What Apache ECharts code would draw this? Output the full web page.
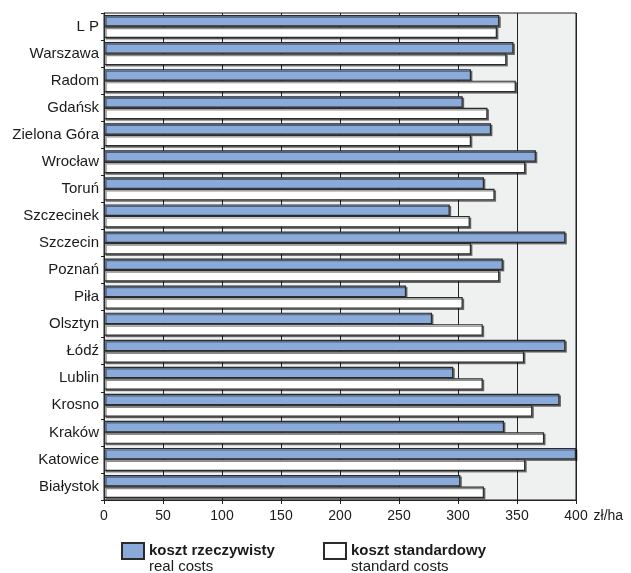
<!DOCTYPE html>
<html>
<head>
<meta charset="utf-8">
<script src="https://cdn.jsdelivr.net/npm/echarts@6/dist/echarts.min.js"></script>
<style>html,body{margin:0;padding:0;background:#fff}#c{width:631px;height:573px}</style>
</head>
<body>
<div id="c"></div>
<script>
const categories = ['L P','Warszawa','Radom','Gdańsk','Zielona Góra','Wrocław','Toruń','Szczecinek','Szczecin','Poznań','Piła','Olsztyn','Łódź','Lublin','Krosno','Kraków','Katowice','Białystok'];
const realCosts = [335,347,311,304,328,366,322,293,391,338,256,278,391,296,386,339,400,302];
const standardCosts = [333,341,349,325,311,357,331,310,311,335,304,321,356,321,363,373,357,322];
const xTicks = [0,50,100,150,200,250,300,350,400];
const seriesNames = ['koszt rzeczywisty','koszt standardowy'];
const seriesNamesEn = ['real costs','standard costs'];
const unit = 'zł/ha';

const font = 'Liberation Sans, Arial, sans-serif';
const chart = echarts.init(document.getElementById('c'));
const legendBase = {
  top: 542, padding: 0, itemWidth: 22, itemHeight: 16, itemGap: 0, icon: 'rect',
  formatter: n => '{a|' + n + '}\n{b|' + seriesNamesEn[seriesNames.indexOf(n)] + '}',
  textStyle: {
    padding: [15, 0, 0, 0],
    rich: {
      a: {fontFamily: font, fontSize: 15, fontWeight: 'bold', color: '#1a1a1a', lineHeight: 16},
      b: {fontFamily: font, fontSize: 15, color: '#1a1a1a', lineHeight: 16}
    }
  }
};
chart.setOption({
  animation: false,
  grid: {left: 104, right: 55, top: 13, bottom: 73, show: true, backgroundColor: '#eff0f0', borderColor: '#222', borderWidth: 1},
  legend: [
    Object.assign({}, legendBase, {left: 121, data: [seriesNames[0]]}),
    Object.assign({}, legendBase, {left: 323, data: [seriesNames[1]]})
  ],
  xAxis: {
    type: 'value', min: xTicks[0], max: xTicks[xTicks.length - 1], interval: 50,
    name: unit, nameLocation: 'end', nameGap: 8,
    nameTextStyle: {fontFamily: font, fontSize: 14, color: '#1a1a1a', verticalAlign: 'top', padding: [9, 0, 0, 0]},
    axisLine: {show: true, lineStyle: {color: '#222', width: 1}},
    axisTick: {show: true, length: 4, lineStyle: {color: '#222'}},
    axisLabel: {fontFamily: font, fontSize: 14, color: '#1a1a1a', margin: 9},
    splitLine: {show: true, lineStyle: {color: '#222', width: 1}}
  },
  yAxis: {
    type: 'category', inverse: true, data: categories,
    axisLine: {show: true, lineStyle: {color: '#222', width: 1}},
    axisTick: {show: true, length: 3, lineStyle: {color: '#222'}},
    axisLabel: {fontFamily: font, fontSize: 15, color: '#1a1a1a', margin: 5},
    splitLine: {show: false}
  },
  series: [
    {
      name: seriesNames[0], type: 'bar', data: realCosts, barWidth: 11.5, barGap: '0%',
      itemStyle: {color: '#8aaad9', borderColor: '#2b2b2b', borderWidth: 1.2,
        shadowColor: 'rgba(0,0,0,0.45)', shadowOffsetX: 1.5, shadowOffsetY: 1.5, shadowBlur: 0}
    },
    {
      name: seriesNames[1], type: 'bar', data: standardCosts, barWidth: 11.5,
      itemStyle: {color: '#ffffff', borderColor: '#2b2b2b', borderWidth: 1.2,
        shadowColor: 'rgba(0,0,0,0.45)', shadowOffsetX: 1.5, shadowOffsetY: 1.5, shadowBlur: 0}
    }
  ]
});
</script>
</body>
</html>
